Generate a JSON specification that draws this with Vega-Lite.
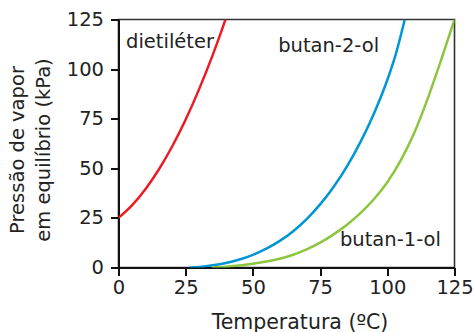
{
  "$schema": "https://vega.github.io/schema/vega-lite/v6.json",
  "width": 336,
  "height": 248,
  "autosize": "none",
  "padding": {"left": 118.5, "top": 19.5, "right": 19.5, "bottom": 64.5},
  "background": "white",
  "config": {
    "font": "DejaVu Sans",
    "view": {"stroke": "#333", "strokeWidth": 1.6},
    "axis": {"grid": false, "labelFlush": false, "domainColor": "#111", "domainWidth": 2, "tickColor": "#111", "tickWidth": 2, "tickSize": 8, "labelFont": "DejaVu Sans", "labelFontSize": 19.5, "labelColor": "#222", "titleFont": "DejaVu Sans", "titleFontSize": 19.5, "titleColor": "#222", "titleFontWeight": "normal"}
  },
  "datasets": {
    "curves": [
      {"s": "dietiléter", "t": 0, "p": 25},
      {"s": "dietiléter", "t": 5, "p": 31.3},
      {"s": "dietiléter", "t": 10, "p": 39.5},
      {"s": "dietiléter", "t": 15, "p": 49.4},
      {"s": "dietiléter", "t": 20, "p": 61.1},
      {"s": "dietiléter", "t": 25, "p": 74.6},
      {"s": "dietiléter", "t": 30, "p": 89.9},
      {"s": "dietiléter", "t": 35, "p": 106.9},
      {"s": "dietiléter", "t": 37.5, "p": 116.1},
      {"s": "dietiléter", "t": 39.8, "p": 125},
      {"s": "butan-2-ol", "t": 26.5, "p": 0},
      {"s": "butan-2-ol", "t": 30, "p": 0.3},
      {"s": "butan-2-ol", "t": 35, "p": 1.1},
      {"s": "butan-2-ol", "t": 40, "p": 2.3},
      {"s": "butan-2-ol", "t": 45, "p": 4.0},
      {"s": "butan-2-ol", "t": 50, "p": 6.4},
      {"s": "butan-2-ol", "t": 55, "p": 9.5},
      {"s": "butan-2-ol", "t": 60, "p": 13.4},
      {"s": "butan-2-ol", "t": 65, "p": 18.3},
      {"s": "butan-2-ol", "t": 70, "p": 24.4},
      {"s": "butan-2-ol", "t": 75, "p": 31.8},
      {"s": "butan-2-ol", "t": 80, "p": 40.6},
      {"s": "butan-2-ol", "t": 85, "p": 51},
      {"s": "butan-2-ol", "t": 90, "p": 63.2},
      {"s": "butan-2-ol", "t": 95, "p": 77.5},
      {"s": "butan-2-ol", "t": 100, "p": 94.5},
      {"s": "butan-2-ol", "t": 103, "p": 106.8},
      {"s": "butan-2-ol", "t": 106.5, "p": 125},
      {"s": "butan-1-ol", "t": 34.7, "p": 0},
      {"s": "butan-1-ol", "t": 40, "p": 0.4},
      {"s": "butan-1-ol", "t": 45, "p": 1.0},
      {"s": "butan-1-ol", "t": 50, "p": 1.9},
      {"s": "butan-1-ol", "t": 55, "p": 3.0},
      {"s": "butan-1-ol", "t": 60, "p": 4.4},
      {"s": "butan-1-ol", "t": 65, "p": 6.4},
      {"s": "butan-1-ol", "t": 70, "p": 9.1},
      {"s": "butan-1-ol", "t": 75, "p": 12.5},
      {"s": "butan-1-ol", "t": 80, "p": 16.7},
      {"s": "butan-1-ol", "t": 85, "p": 21.6},
      {"s": "butan-1-ol", "t": 90, "p": 27.4},
      {"s": "butan-1-ol", "t": 95, "p": 34.4},
      {"s": "butan-1-ol", "t": 100, "p": 43},
      {"s": "butan-1-ol", "t": 105, "p": 54},
      {"s": "butan-1-ol", "t": 110, "p": 67.8},
      {"s": "butan-1-ol", "t": 115, "p": 85},
      {"s": "butan-1-ol", "t": 120, "p": 104.5},
      {"s": "butan-1-ol", "t": 125, "p": 125}
    ],
    "labels": [
      {"s": "dietiléter", "t": 2.8, "p": 113.5},
      {"s": "butan-2-ol", "t": 59.4, "p": 111.5},
      {"s": "butan-1-ol", "t": 82.4, "p": 14}
    ]
  },
  "layer": [
    {
      "data": {"name": "curves"},
      "mark": {"type": "line", "strokeWidth": 2.5, "clip": true, "interpolate": "monotone"},
      "encoding": {
        "x": {"field": "t", "type": "quantitative", "scale": {"domain": [0, 125], "nice": false}, "axis": {"values": [0, 25, 50, 75, 100, 125], "title": "Temperatura (ºC)", "titleFontSize": 20.5, "labelPadding": 3, "titleX": 181, "titleY": 60.5, "titleAlign": "center", "titleBaseline": "alphabetic"}},
        "y": {"field": "p", "type": "quantitative", "scale": {"domain": [0, 125], "nice": false}, "axis": {"values": [0, 25, 50, 75, 100, 125], "title": ["Pressão de vapor", "em equilíbrio (kPa)"], "labelPadding": 7, "titleX": -95.5, "titleY": 130, "titleAngle": -90, "titleAlign": "center", "titleBaseline": "alphabetic", "titleLineHeight": 26}},
        "color": {"field": "s", "type": "nominal", "scale": {"domain": ["dietiléter", "butan-2-ol", "butan-1-ol"], "range": ["#ed1c24", "#0096d6", "#8cc63f"]}, "legend": null},
        "detail": {"field": "s"}
      }
    },
    {
      "data": {"name": "labels"},
      "mark": {"type": "text", "align": "left", "baseline": "middle", "fontSize": 19.5, "color": "#222", "font": "DejaVu Sans"},
      "encoding": {
        "x": {"field": "t", "type": "quantitative"},
        "y": {"field": "p", "type": "quantitative"},
        "text": {"field": "s"}
      }
    }
  ]
}
